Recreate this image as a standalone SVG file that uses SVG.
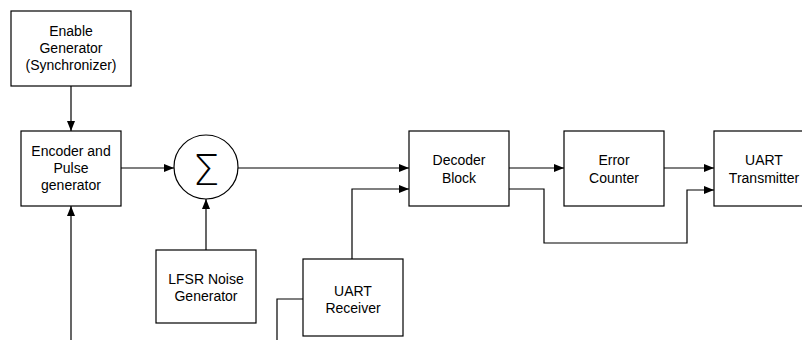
<svg xmlns="http://www.w3.org/2000/svg" width="802" height="340" viewBox="0 0 802 340">
  <style>
    .box { fill: #ffffff; stroke: #000000; stroke-width: 1.2; }
    .wire { fill: none; stroke: #000000; stroke-width: 1.2; }
    .lbl { font-family: "Liberation Sans", Arial, sans-serif; font-size: 14px; fill: #000000; text-anchor: middle; }
    .sigma { font-family: "DejaVu Sans ExtraLight", "DejaVu Sans", sans-serif; font-weight: 200; font-size: 43px; fill: #000000; text-anchor: middle; }
  </style>
  <defs>
    <marker id="arrow" viewBox="0 0 10 8" refX="10" refY="4" markerWidth="10" markerHeight="8" markerUnits="userSpaceOnUse" orient="auto">
      <path d="M0,0 L10,4 L0,8 Z" fill="#000000"/>
    </marker>
  </defs>
  <rect width="802" height="340" fill="#ffffff"/>

  <!-- signal paths -->
  <g id="connectors">
    <path class="wire" d="M71,86 V131" marker-end="url(#arrow)"/>
    <path class="wire" d="M71,340 V206" marker-end="url(#arrow)"/>
    <path class="wire" d="M121,168 H174" marker-end="url(#arrow)"/>
    <path class="wire" d="M206,250 V199" marker-end="url(#arrow)"/>
    <path class="wire" d="M238,168 H409" marker-end="url(#arrow)"/>
    <path class="wire" d="M352,259 V189 H409" marker-end="url(#arrow)"/>
    <path class="wire" d="M303,299 H277 V340"/>
    <path class="wire" d="M509,168 H564" marker-end="url(#arrow)"/>
    <path class="wire" d="M664,168 H714" marker-end="url(#arrow)"/>
    <path class="wire" d="M509,189 H544 V243 H687 V190 H714" marker-end="url(#arrow)"/>
  </g>

  <g id="enable-generator">
    <rect class="box" x="11" y="11" width="120" height="75"/>
    <text class="lbl" x="71" y="36">Enable</text>
    <text class="lbl" x="71" y="53">Generator</text>
    <text class="lbl" x="71" y="70">(Synchronizer)</text>
  </g>

  <g id="encoder">
    <rect class="box" x="21" y="131" width="100" height="75"/>
    <text class="lbl" x="71" y="156">Encoder and</text>
    <text class="lbl" x="71" y="173">Pulse</text>
    <text class="lbl" x="71" y="190">generator</text>
  </g>

  <g id="summer">
    <circle class="box" cx="206" cy="167" r="32"/>
    <text class="sigma" x="206" y="185">Σ</text>
  </g>

  <g id="lfsr">
    <rect class="box" x="156" y="250" width="100" height="73"/>
    <text class="lbl" x="206" y="284">LFSR Noise</text>
    <text class="lbl" x="206" y="301">Generator</text>
  </g>

  <g id="uart-receiver">
    <rect class="box" x="303" y="259" width="100" height="77"/>
    <text class="lbl" x="353" y="296">UART</text>
    <text class="lbl" x="353" y="313">Receiver</text>
  </g>

  <g id="decoder">
    <rect class="box" x="409" y="131" width="100" height="75"/>
    <text class="lbl" x="459" y="165">Decoder</text>
    <text class="lbl" x="459" y="183">Block</text>
  </g>

  <g id="error-counter">
    <rect class="box" x="564" y="131" width="100" height="75"/>
    <text class="lbl" x="614" y="165">Error</text>
    <text class="lbl" x="614" y="183">Counter</text>
  </g>

  <g id="uart-transmitter">
    <rect class="box" x="714" y="131" width="100" height="75"/>
    <text class="lbl" x="764" y="165">UART</text>
    <text class="lbl" x="764" y="183">Transmitter</text>
  </g>
</svg>
